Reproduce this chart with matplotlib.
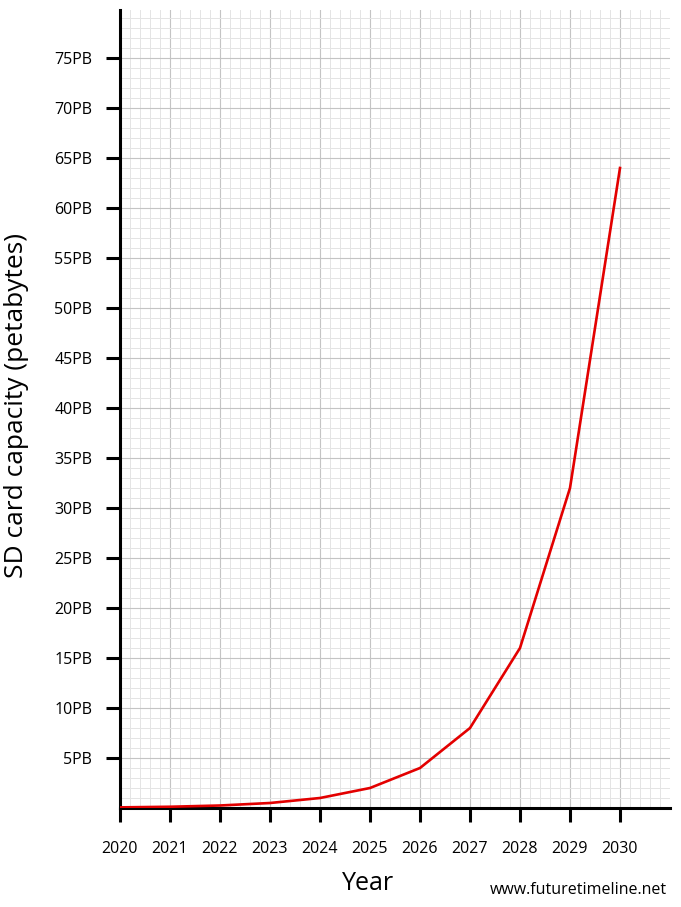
import matplotlib
matplotlib.use("Agg")
import matplotlib.pyplot as plt
from matplotlib.ticker import MultipleLocator, FixedLocator

years = [2020, 2021, 2022, 2023, 2024, 2025, 2026, 2027, 2028, 2029, 2030]
capacity_pb = [0.0625, 0.125, 0.25, 0.5, 1, 2, 4, 8, 16, 32, 64]
ytick_vals = [5, 10, 15, 20, 25, 30, 35, 40, 45, 50, 55, 60, 65, 70, 75]
ytick_labels = [f"{v}PB" for v in ytick_vals]
xtick_labels = [str(y) for y in years]

plt.rcParams['font.family'] = ['Open Sans', 'DejaVu Sans']

fig = plt.figure(figsize=(6.81, 9.07), dpi=100)
ax = fig.add_axes([120/681, 1 - 808/907, 550/681, 798/907])

ax.plot(years, capacity_pb, color='#e30000', lw=1.9, zorder=3, solid_joinstyle='miter')

ax.set_xlim(2020, 2031)
ax.set_ylim(0, 79.8)

ax.xaxis.set_major_locator(FixedLocator(years))
ax.set_xticklabels(xtick_labels)
ax.xaxis.set_minor_locator(MultipleLocator(0.2))
ax.yaxis.set_major_locator(FixedLocator(ytick_vals))
ax.set_yticklabels(ytick_labels)
ax.yaxis.set_minor_locator(MultipleLocator(1))

ax.grid(which='major', color='#c4c4c4', lw=0.8, zorder=0)
ax.grid(which='minor', color='#e4e4e4', lw=0.7, zorder=0)
ax.set_axisbelow(True)

for s in ['top', 'right']:
    ax.spines[s].set_visible(False)
for s in ['left', 'bottom']:
    ax.spines[s].set_linewidth(2.2)
    ax.spines[s].set_color('black')

ax.tick_params(which='major', length=10, width=2.2, color='black', labelsize=11.5)
ax.tick_params(axis='x', which='major', pad=14)
ax.tick_params(axis='y', which='major', pad=10)
ax.tick_params(which='minor', length=0)

ax.set_ylabel('SD card capacity (petabytes)', fontsize=19)
ax.yaxis.set_label_coords(-0.165, 0.505)
fig.text(368/681, 1 - 883/907, 'Year', fontsize=18, ha='center', va='center')
fig.text(667/681, 1 - 890/907, 'www.futuretimeline.net', fontsize=11.5, ha='right', va='center')

fig.savefig('out.png', dpi=100)
